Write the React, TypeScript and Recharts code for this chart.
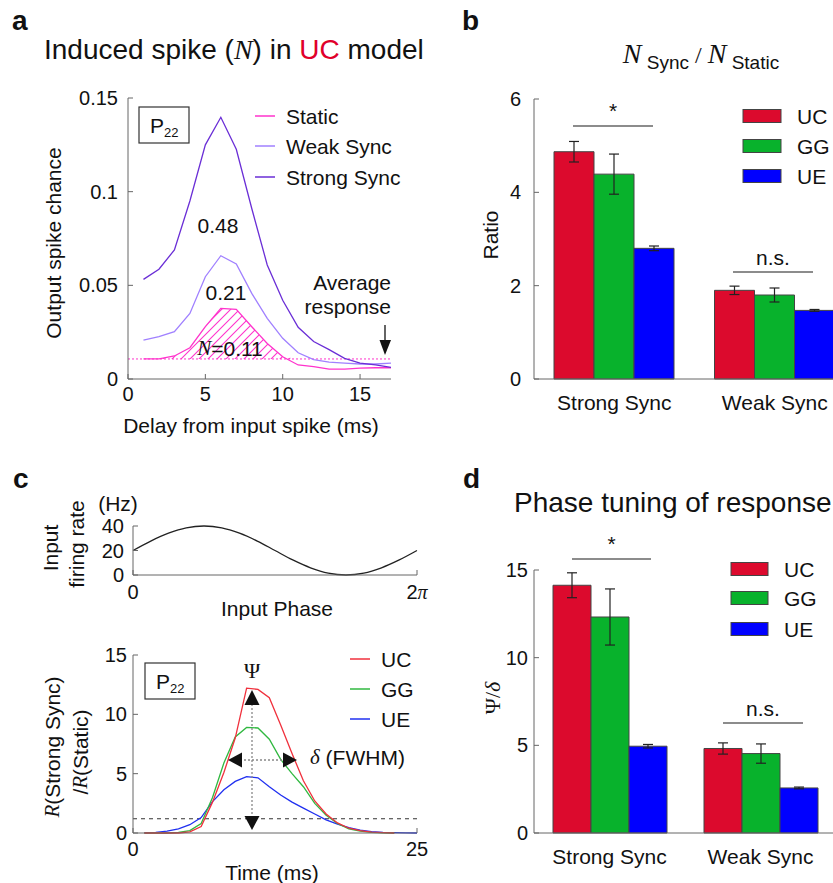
import {
  ComposedChart,
  LineChart,
  BarChart,
  Line,
  Area,
  Bar,
  ErrorBar,
  XAxis,
  YAxis,
  ReferenceLine,
} from "recharts";

const FONT = "'Liberation Sans', Arial, Helvetica, sans-serif";
const SERIF = "'Liberation Serif', 'Times New Roman', serif";
const AXIS = "#666";
const INK = "#111";

const COLORS = {
  static: "#ff33cc",
  weak: "#a080ff",
  strong: "#6a2ed6",
  uc: "#dc0a2d",
  gg: "#08b22c",
  ue: "#0000ff",
  ucLine: "#f0303c",
  ggLine: "#30b840",
  ueLine: "#2030f0",
};

// a: output spike chance vs delay
const DELAY_MS = [1, 2, 3, 4, 5, 6, 7, 8, 9, 10, 11, 12, 13, 14, 15, 16, 17];
const STATIC_RESP = [0.0107, 0.0107, 0.0123, 0.0167, 0.028, 0.0377, 0.0372, 0.0279, 0.019, 0.0119, 0.0075, 0.0066, 0.0053, 0.0053, 0.0058, 0.006, 0.006];
const WEAK_RESP = [0.0208, 0.0226, 0.0253, 0.035, 0.0546, 0.0658, 0.0614, 0.0457, 0.0324, 0.0217, 0.014, 0.0103, 0.009, 0.0085, 0.008, 0.008, 0.0085];
const STRONG_RESP = [0.0532, 0.0586, 0.0689, 0.095, 0.125, 0.1397, 0.1226, 0.091, 0.0609, 0.042, 0.0276, 0.02, 0.0157, 0.011, 0.0085, 0.0075, 0.0062];
const SPONT_LEVEL = 0.0107;

// b: N_sync / N_static
const GROUPS = ["Strong Sync", "Weak Sync"];
const RATIO_UC = [4.87, 1.9];
const RATIO_UC_ERR = [0.22, 0.09];
const RATIO_GG = [4.39, 1.8];
const RATIO_GG_ERR = [0.43, 0.15];
const RATIO_UE = [2.8, 1.47];
const RATIO_UE_ERR = [0.05, 0.02];

// c (top): input firing rate over one cycle
const PHASE_PI = [0, 0.125, 0.25, 0.375, 0.5, 0.625, 0.75, 0.875, 1, 1.125, 1.25, 1.375, 1.5, 1.625, 1.75, 1.875, 2];
const INPUT_RATE = [20, 27.7, 34.1, 38.5, 40, 38.5, 34.1, 27.7, 20, 12.3, 5.9, 1.5, 0, 1.5, 5.9, 12.3, 20];

// c (bottom): R(strong sync) / R(static)
const TIME_MS = [1, 2, 3, 4, 5, 6, 7, 8, 9, 10, 11, 12, 13, 14, 15, 16, 17, 18, 19, 20, 21, 22, 23, 24, 25];
const GAIN_UC = [0, 0, 0, 0, 0.1, 0.55, 2.6, 5.1, 8.0, 12.2, 12.1, 11.4, 9.1, 6.7, 4.4, 2.7, 1.6, 0.85, 0.4, 0.2, 0.08, 0.03, 0, null, null];
const GAIN_GG = [0, 0, 0, 0.05, 0.2, 0.8, 3.0, 5.9, 8.1, 8.9, 8.85, 7.9, 6.2, 5.0, 3.9, 2.5, 1.5, 0.8, 0.35, 0.15, 0.06, 0.02, 0, null, null];
const GAIN_UE = [0.02, 0.06, 0.15, 0.35, 0.7, 1.3, 2.65, 3.65, 4.35, 4.75, 4.65, 3.9, 3.2, 2.6, 2.1, 1.6, 1.1, 0.75, 0.45, 0.25, 0.12, 0.06, 0.03, 0.01, 0];
const GAIN_BASE = 1.2;

// d: phase tuning Psi / delta
const TUNING_UC = [14.13, 4.82];
const TUNING_UC_ERR = [0.71, 0.32];
const TUNING_GG = [12.32, 4.53];
const TUNING_GG_ERR = [1.6, 0.55];
const TUNING_UE = [4.95, 2.57];
const TUNING_UE_ERR = [0.1, 0.05];

const respData = DELAY_MS.map((t, i) => ({
  t,
  stat: STATIC_RESP[i],
  weak: WEAK_RESP[i],
  strong: STRONG_RESP[i],
  hatch: [SPONT_LEVEL, Math.max(STATIC_RESP[i], SPONT_LEVEL)],
}));

const ratioData = GROUPS.map((group, i) => ({
  group,
  uc: RATIO_UC[i],
  ucErr: RATIO_UC_ERR[i],
  gg: RATIO_GG[i],
  ggErr: RATIO_GG_ERR[i],
  ue: RATIO_UE[i],
  ueErr: RATIO_UE_ERR[i],
}));

const tuningData = GROUPS.map((group, i) => ({
  group,
  uc: TUNING_UC[i],
  ucErr: TUNING_UC_ERR[i],
  gg: TUNING_GG[i],
  ggErr: TUNING_GG_ERR[i],
  ue: TUNING_UE[i],
  ueErr: TUNING_UE_ERR[i],
}));

const inputData = PHASE_PI.map((p, i) => ({ p, rate: INPUT_RATE[i] }));

const gainData = TIME_MS.map((t, i) => ({
  t,
  uc: GAIN_UC[i],
  gg: GAIN_GG[i],
  ue: GAIN_UE[i],
}));

const tickStyle = { fill: INK, fontSize: 20 };
const catTickStyle = { fill: INK, fontSize: 21 };

const PhaseTick = (props: any) => {
  const { x, y, payload } = props;
  return (
    <text x={x} y={y} dy="0.71em" textAnchor="middle" fontSize={20} fill={INK}>
      {payload.value === 0 ? (
        "0"
      ) : (
        <>
          <tspan>2</tspan>
          <tspan fontFamily={SERIF} fontStyle="italic">π</tspan>
        </>
      )}
    </text>
  );
};

const PanelA = () => (
  <ComposedChart width={420} height={440} data={respData} margin={{ top: 98, right: 29, bottom: 31, left: 68 }}>
    <defs>
      <pattern id="hatchA" patternUnits="userSpaceOnUse" width={9} height={9}>
        <path d="M-1,1 L1,-1 M0,9 L9,0 M8,10 L10,8" fill="none" style={{ stroke: COLORS.static, strokeWidth: 1.1 }} />
      </pattern>
    </defs>
    <XAxis type="number" dataKey="t" domain={[0, 17]} ticks={[0, 5, 10, 15]} interval={0} height={30} stroke={AXIS} tickSize={-5} tickMargin={13} tick={tickStyle} />
    <YAxis type="number" domain={[0, 0.15]} ticks={[0, 0.05, 0.1, 0.15]} interval={0} width={60} stroke={AXIS} tickSize={-5} tickMargin={15} tick={tickStyle} />
    <Area type="linear" dataKey="hatch" stroke="none" fill="url(#hatchA)" fillOpacity={1} dot={false} activeDot={false} isAnimationActive={false} />
    <ReferenceLine y={SPONT_LEVEL} stroke={COLORS.static} strokeDasharray="2 2" />
    <Line type="linear" dataKey="stat" stroke={COLORS.static} strokeWidth={1.3} dot={false} isAnimationActive={false} />
    <Line type="linear" dataKey="weak" stroke={COLORS.weak} strokeWidth={1.3} dot={false} isAnimationActive={false} />
    <Line type="linear" dataKey="strong" stroke={COLORS.strong} strokeWidth={1.3} dot={false} isAnimationActive={false} />
  </ComposedChart>
);

const GroupBars = ({ data, domain, ticks, barSize, margin, tickMargin }: any) => (
  <BarChart width={460} height={margin.h} data={data} margin={margin.m} barGap={0}>
    <XAxis dataKey="group" height={30} stroke={AXIS} interval={0} tickLine={false} tickSize={0} tickMargin={16} tick={catTickStyle} />
    <YAxis type="number" domain={domain} ticks={ticks} interval={0} width={60} stroke={AXIS} tickSize={-5} tickMargin={tickMargin} tick={tickStyle} />
    <Bar dataKey="uc" fill={COLORS.uc} stroke="#444" barSize={barSize} isAnimationActive={false}>
      <ErrorBar dataKey="ucErr" width={5} stroke="#222" strokeWidth={1.2} />
    </Bar>
    <Bar dataKey="gg" fill={COLORS.gg} stroke="#444" barSize={barSize} isAnimationActive={false}>
      <ErrorBar dataKey="ggErr" width={5} stroke="#222" strokeWidth={1.2} />
    </Bar>
    <Bar dataKey="ue" fill={COLORS.ue} stroke="#444" barSize={barSize} isAnimationActive={false}>
      <ErrorBar dataKey="ueErr" width={5} stroke="#222" strokeWidth={1.2} />
    </Bar>
  </BarChart>
);

const PanelCTop = () => (
  <LineChart width={440} height={200} data={inputData} margin={{ top: 86, right: 23, bottom: 35, left: 73 }}>
    <XAxis type="number" dataKey="p" domain={[0, 2]} ticks={[0, 2]} interval={0} height={30} stroke={AXIS} tickSize={-5} tickMargin={15} tick={<PhaseTick />} />
    <YAxis type="number" domain={[0, 40]} ticks={[0, 20, 40]} interval={0} width={60} stroke={AXIS} tickSize={-5} tickMargin={14} tick={tickStyle} />
    <Line type="monotone" dataKey="rate" stroke="#222" strokeWidth={1.3} dot={false} isAnimationActive={false} />
  </LineChart>
);

const PanelCBottom = () => (
  <LineChart width={440} height={263} data={gainData} margin={{ top: 35, right: 23, bottom: 20, left: 73 }}>
    <XAxis type="number" dataKey="t" domain={[0, 25]} ticks={[0, 25]} interval={0} height={30} stroke={AXIS} tickSize={-5} tickMargin={14} tick={tickStyle} />
    <YAxis type="number" domain={[0, 15]} ticks={[0, 5, 10, 15]} interval={0} width={60} stroke={AXIS} tickSize={-5} tickMargin={11} tick={tickStyle} />
    <ReferenceLine y={GAIN_BASE} stroke="#333" strokeDasharray="4 4" />
    <Line type="linear" dataKey="ue" stroke={COLORS.ueLine} strokeWidth={1.3} dot={false} isAnimationActive={false} />
    <Line type="linear" dataKey="gg" stroke={COLORS.ggLine} strokeWidth={1.3} dot={false} isAnimationActive={false} />
    <Line type="linear" dataKey="uc" stroke={COLORS.ucLine} strokeWidth={1.3} dot={false} isAnimationActive={false} />
  </LineChart>
);

const T = ({ x, y, size = 21, anchor = "middle", rotate, children, ...rest }: any) => (
  <text
    x={x}
    y={y}
    fontSize={size}
    textAnchor={anchor}
    dominantBaseline="central"
    fill={INK}
    transform={rotate ? `rotate(${rotate} ${x} ${y})` : undefined}
    {...rest}
  >
    {children}
  </text>
);

const Letter = ({ x, y, children }: any) => (
  <text x={x} y={y} fontSize={28} fontWeight="bold" fill={INK}>
    {children}
  </text>
);

const P22 = ({ x, y }: any) => (
  <g>
    <rect x={x} y={y} width={50} height={36} fill="#fff" stroke="#333" strokeWidth={1.2} />
    <text x={x + 11} y={y + 26} fontSize={21} fill={INK}>
      P<tspan fontSize={13} dy={4}>22</tspan>
    </text>
  </g>
);

const LegendLines = ({ x, ys, items }: any) => (
  <g>
    {items.map((it: any, i: number) => (
      <g key={it.label}>
        <line x1={x} x2={x + 20} y1={ys[i]} y2={ys[i]} stroke={it.color} strokeWidth={1.5} />
        <T x={x + 31} y={ys[i]} anchor="start">{it.label}</T>
      </g>
    ))}
  </g>
);

const LegendBoxes = ({ x, ys, w, items }: any) => (
  <g>
    {items.map((it: any, i: number) => (
      <g key={it.label}>
        <rect x={x} y={ys[i] - 6.5} width={w} height={13} fill={it.color} stroke="#444" strokeWidth={1} />
        <T x={x + w + 16} y={ys[i]} anchor="start">{it.label}</T>
      </g>
    ))}
  </g>
);

const Sig = ({ x1, x2, y, label, ly }: any) => (
  <g>
    <line x1={x1} x2={x2} y1={y} y2={y} stroke="#666" strokeWidth={1.5} />
    <T x={(x1 + x2) / 2} y={ly}>{label}</T>
  </g>
);

const modelItems = [
  { label: "UC", color: COLORS.uc },
  { label: "GG", color: COLORS.gg },
  { label: "UE", color: COLORS.ue },
];

const Overlay = () => (
  <svg width={833} height={883} style={{ position: "absolute", left: 0, top: 0, pointerEvents: "none" }}>
    {/* a */}
    <Letter x={12} y={30}>a</Letter>
    <text x={44} y={59} fontSize={28} fill={INK}>
      Induced spike (<tspan fontFamily={SERIF} fontStyle="italic">N</tspan>) in <tspan fill="#e0002a">UC</tspan> model
    </text>
    <P22 x={139} y={107} />
    <LegendLines
      x={255}
      ys={[116, 146, 177]}
      items={[
        { label: "Static", color: COLORS.static },
        { label: "Weak Sync", color: COLORS.weak },
        { label: "Strong Sync", color: COLORS.strong },
      ]}
    />
    <T x={218} y={225}>0.48</T>
    <T x={226} y={292}>0.21</T>
    <T x={230} y={348}>
      <tspan fontFamily={SERIF} fontStyle="italic">N</tspan>=0.11
    </T>
    <T x={391} y={282} anchor="end">Average</T>
    <T x={391} y={306} anchor="end">response</T>
    <line x1={385} x2={385} y1={325} y2={342} stroke="#111" strokeWidth={1.3} />
    <polygon points="379.5,340 391,340 385,355" fill="#111" />
    <T x={53} y={243} rotate={-90}>Output spike chance</T>
    <T x={251} y={425}>Delay from input spike (ms)</T>

    {/* b */}
    <Letter x={462} y={30}>b</Letter>
    <text x={701} y={63} textAnchor="middle" fontSize={28} fill={INK}>
      <tspan fontFamily={SERIF} fontStyle="italic">N</tspan>
      <tspan fontSize={19} dy={6}> Sync</tspan>
      <tspan fontSize={24} dy={-6} fontFamily={SERIF}> / </tspan>
      <tspan fontFamily={SERIF} fontStyle="italic">N</tspan>
      <tspan fontSize={19} dy={6}> Static</tspan>
    </text>
    <T x={490} y={235} rotate={-90}>Ratio</T>
    <LegendBoxes x={743} w={38} ys={[116, 146, 176]} items={modelItems} />
    <Sig x1={573} x2={653} y={126} label="*" ly={110} />
    <Sig x1={733} x2={813} y={272} label="n.s." ly={257} />

    {/* c top */}
    <Letter x={13} y={488}>c</Letter>
    <T x={118} y={503}>(Hz)</T>
    <T x={50} y={548} rotate={-90}>Input</T>
    <T x={76} y={544} rotate={-90}>firing rate</T>
    <T x={277} y={608}>Input Phase</T>

    {/* c bottom */}
    <P22 x={145} y={663} />
    <T x={252} y={670} size={22} fontFamily={SERIF}>Ψ</T>
    <LegendLines
      x={350}
      ys={[659, 689, 719]}
      items={[
        { label: "UC", color: COLORS.ucLine },
        { label: "GG", color: COLORS.ggLine },
        { label: "UE", color: COLORS.ueLine },
      ]}
    />
    <line x1={252} x2={252} y1={700} y2={820} stroke="#888" strokeWidth={1.3} strokeDasharray="2 2" />
    <polygon points="252,690 244.5,705 259.5,705" fill="#111" />
    <polygon points="252,830 244.5,816 259.5,816" fill="#111" />
    <line x1={236} x2={289} y1={760} y2={760} stroke="#888" strokeWidth={1.3} strokeDasharray="2 2" />
    <polygon points="228,760 242,752.5 242,767.5" fill="#111" />
    <polygon points="297,760 283,752.5 283,767.5" fill="#111" />
    <T x={310} y={757} anchor="start">
      <tspan fontFamily={SERIF} fontStyle="italic">δ</tspan> (FWHM)
    </T>
    <T x={52} y={747} rotate={-90}>
      <tspan fontFamily={SERIF} fontStyle="italic">R</tspan>(Strong Sync)
    </T>
    <T x={80} y={752} rotate={-90}>
      /<tspan fontFamily={SERIF} fontStyle="italic">R</tspan>(Static)
    </T>
    <T x={272} y={872}>Time (ms)</T>

    {/* d */}
    <Letter x={463} y={488}>d</Letter>
    <text x={514} y={512} fontSize={28} fill={INK}>Phase tuning of response</text>
    <T x={492} y={698} rotate={-90} size={22} fontFamily={SERIF}>
      Ψ/<tspan fontStyle="italic">δ</tspan>
    </T>
    <LegendBoxes x={731} w={37} ys={[569, 598, 629]} items={modelItems} />
    <Sig x1={572} x2={651} y={559} label="*" ly={543} />
    <Sig x1={723} x2={803} y={723} label="n.s." ly={708} />
  </svg>
);

export default function App() {
  return (
    <div
      style={{
        position: "relative",
        width: 833,
        height: 883,
        overflow: "hidden",
        background: "#fff",
        fontFamily: FONT,
        color: INK,
      }}
    >
      <style>{"body{margin:0}"}</style>
      <div style={{ position: "absolute", left: 0, top: 0 }}>
        <PanelA />
      </div>
      <div style={{ position: "absolute", left: 420, top: 0 }}>
        <GroupBars
          data={ratioData}
          domain={[0, 6]}
          ticks={[0, 2, 4, 6]}
          barSize={40}
          tickMargin={18}
          margin={{ h: 440, m: { top: 99, right: 25, bottom: 31, left: 54 } }}
        />
      </div>
      <div style={{ position: "absolute", left: 0, top: 440 }}>
        <PanelCTop />
      </div>
      <div style={{ position: "absolute", left: 0, top: 620 }}>
        <PanelCBottom />
      </div>
      <div style={{ position: "absolute", left: 420, top: 440 }}>
        <GroupBars
          data={tuningData}
          domain={[0, 15]}
          ticks={[0, 5, 10, 15]}
          barSize={38}
          tickMargin={11}
          margin={{ h: 443, m: { top: 130, right: 44, bottom: 20, left: 54 } }}
        />
      </div>
      <Overlay />
    </div>
  );
}
